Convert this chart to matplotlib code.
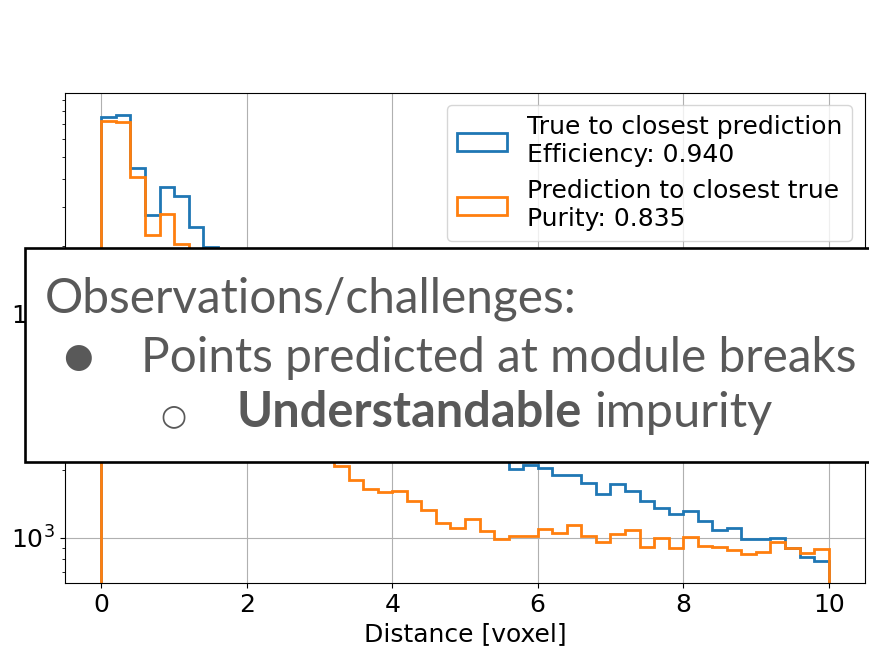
import numpy as np
import matplotlib
matplotlib.use("Agg")
import matplotlib.pyplot as plt
from matplotlib.patches import Rectangle

plt.rcParams['font.size'] = 18

# bins: 0..10 voxel, 50 bins of width 0.2
edges = np.linspace(0, 10, 51)
centers = (edges[:-1] + edges[1:]) / 2

# counts per bin (hidden part estimated)
true_to_pred = [75800, 77100, 44600, 27600, 36900, 33600, 24450, 19900,
                18000, 16000, 14200, 12800, 11500, 10300, 9200, 8300, 7400, 6600,
                5900, 5300, 4700, 4200, 3800, 3400, 3000, 2700, 2500, 2300,
                2031, 2104, 2052, 1897, 1897, 1756, 1557, 1728, 1611, 1463,
                1355, 1279, 1310, 1181, 1083, 1101, 987, 987, 993, 895, 821, 788]
pred_to_true = [72700, 71500, 40600, 22450, 27800, 20400,
                17500, 14000, 11500, 9500, 7800, 6300, 5000, 4000, 3200, 2500,
                2088, 1806, 1640, 1601, 1611, 1453, 1333, 1160, 1101, 1209,
                1075, 990, 1018, 1018, 1090, 1053, 1136, 1021, 959, 1032,
                1079, 904, 993, 895, 1010, 918, 904, 880, 845, 865, 959, 895, 850, 886]

lbl_true = "True to closest prediction\nEfficiency: 0.940"
lbl_pred = "Prediction to closest true\nPurity: 0.835"

W, H = 870, 647
fig = plt.figure(figsize=(W / 100, H / 100), dpi=100)
ax = fig.add_axes([65 / W, 1 - 583 / H, 800 / W, 490.3 / H])

ax.hist(centers, bins=edges, weights=true_to_pred, histtype='step', log=True,
        linewidth=2, label=lbl_true)
ax.hist(centers, bins=edges, weights=pred_to_true, histtype='step', log=True,
        linewidth=2, label=lbl_pred)
ax.set_xlabel("Distance [voxel]")
ax.grid(True)
ax.legend(loc='upper right')

# pixel -> figure fraction
def fx(px):
    return px / W

def fy(py):
    return 1 - py / H

# recuadro superpuesto con el texto de la diapositiva
gris = '#595959'
tam = 34.4
box = Rectangle((fx(25), fy(462)), 1.0, (462 - 248) / H, transform=fig.transFigure,
                facecolor='white', edgecolor='black', linewidth=1.9, zorder=10)
fig.add_artist(box)

fig.text(fx(45), fy(312.7), "Observations/challenges:", fontsize=tam, family='Lato',
         color=gris, va='baseline', ha='left', zorder=11)
fig.text(fx(78), fy(357.5), "\u25cf", fontsize=24.5, family='DejaVu Sans',
         color=gris, va='center', ha='center', zorder=11)
fig.text(fx(141), fy(371.7), "Points predicted at module breaks", fontsize=tam,
         family='Lato', color=gris, va='baseline', ha='left', zorder=11)
fig.text(fx(173), fy(416), "\u25cb", fontsize=21.5, family='DejaVu Sans',
         color=gris, va='center', ha='center', zorder=11)
t_bold = fig.text(fx(237), fy(426.7), "Understandable", fontsize=35.1, family='Lato',
                  fontweight='bold', color=gris, va='baseline', ha='left', zorder=11)

fig.canvas.draw()
bb = t_bold.get_window_extent(fig.canvas.get_renderer())
fig.text((bb.x1 + 12) / W, fy(426.7), "impurity", fontsize=35.1, family='Lato',
         color=gris, va='baseline', ha='left', zorder=11)

fig.savefig("out.png", dpi=100)
